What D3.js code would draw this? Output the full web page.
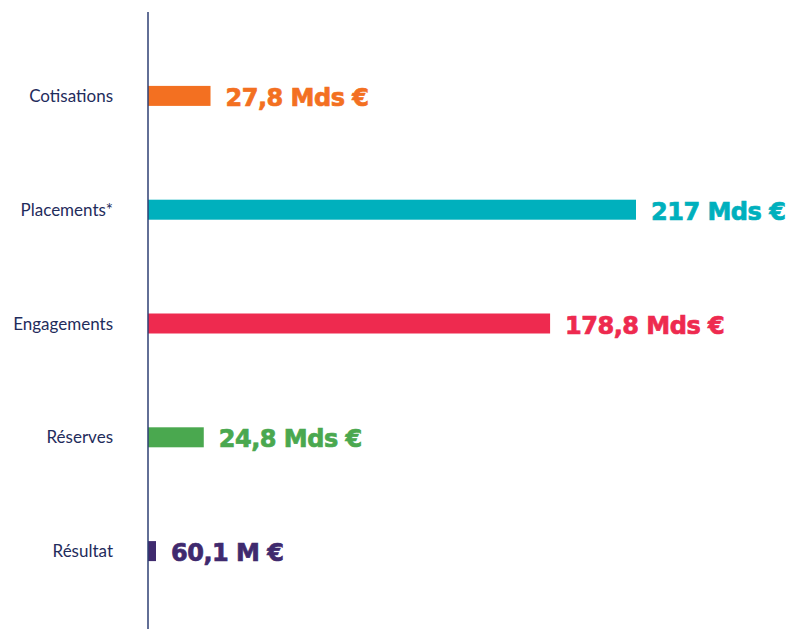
<!DOCTYPE html>
<html><head><meta charset="utf-8">
<script src="https://cdn.jsdelivr.net/npm/d3@7"></script>
<style>
html,body{margin:0;padding:0;background:#fff;}
svg{display:block;}
</style></head>
<body>
<script>
const categories = ["Cotisations", "Placements*", "Engagements", "Réserves", "Résultat"];
const values = [27.8, 217, 178.8, 24.8, 0.0601]; // milliards d'euros
const valueLabels = ["27,8 Mds €", "217 Mds €", "178,8 Mds €", "24,8 Mds €", "60,1 M €"];
const colors = ["#f37021", "#00b0bd", "#ee2a4f", "#4aa84f", "#3f2a6e"];

const W = 788, H = 629;
const x0 = 148;
const svg = d3.select("body").append("svg").attr("width", W).attr("height", H);

const x = d3.scaleLinear().domain([0, 217]).range([x0, x0 + 488]);
const y = d3.scaleBand().domain(categories).range([39, 608]).paddingInner(0.82).paddingOuter(0.41);
const barH = 20;
const bw = i => Math.max(8, x(values[i]) - x0);

const g = svg.append("g");
categories.forEach((c, i) => {
  const cy = y(c) + y.bandwidth() / 2;
  g.append("rect")
    .attr("x", x0).attr("y", cy - barH / 2)
    .attr("width", bw(i)).attr("height", barH)
    .attr("fill", colors[i]);
  g.append("text")
    .attr("x", x0 + bw(i) + 15).attr("y", cy + 10)
    .attr("font-family", "DejaVu Sans").attr("font-weight", "bold")
    .attr("font-size", 24).attr("letter-spacing", -0.5)
    .attr("fill", colors[i]).attr("stroke", colors[i]).attr("stroke-width", 0.7)
    .text(valueLabels[i]);
  g.append("text")
    .attr("x", 113).attr("y", cy + 6)
    .attr("text-anchor", "end")
    .attr("font-family", "Lato").attr("font-size", 17)
    .attr("fill", "#1f2c5c")
    .text(c);
});

svg.append("line")
  .attr("x1", x0).attr("x2", x0).attr("y1", 12).attr("y2", H)
  .attr("stroke", "#2e3f73").attr("stroke-width", 1.5);
</script>
</body></html>
